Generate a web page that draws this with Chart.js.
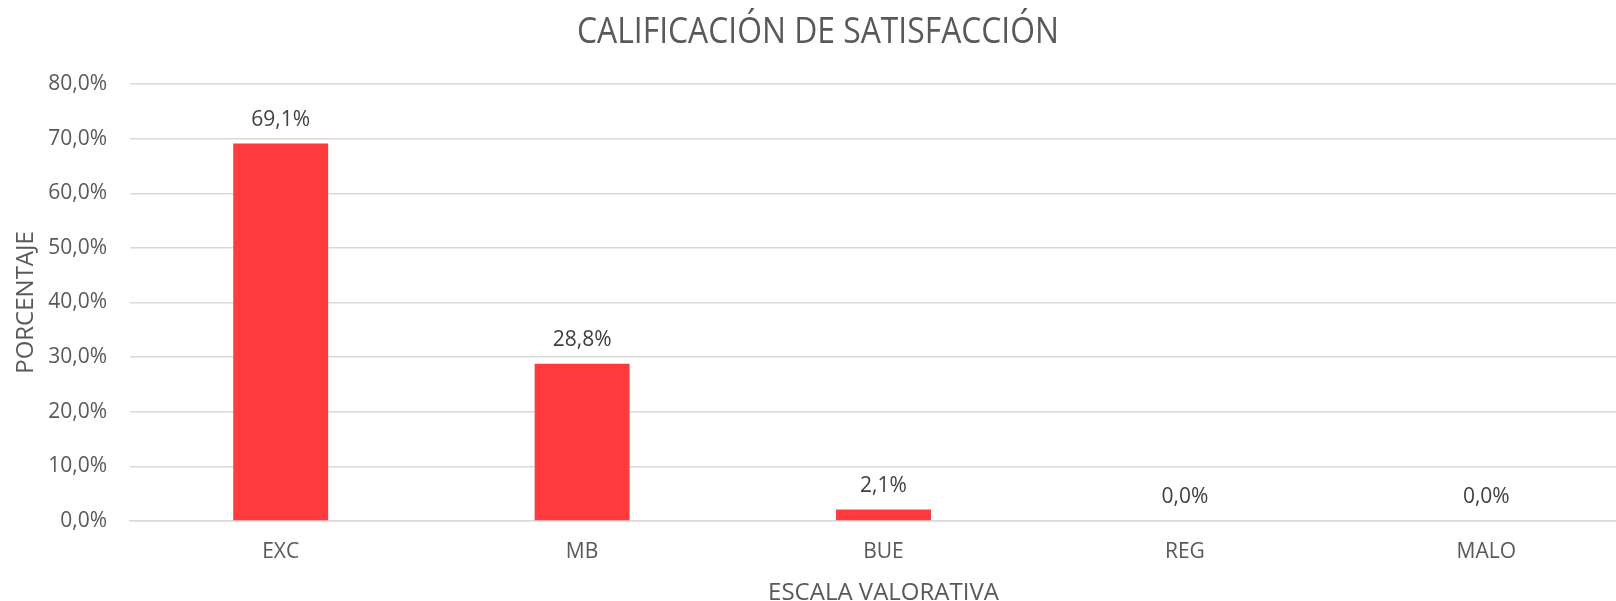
<!DOCTYPE html>
<html lang="es">
<head>
<meta charset="utf-8">
<title>Calificación de satisfacción</title>
<script src="https://cdn.jsdelivr.net/npm/chart.js@4/dist/chart.umd.min.js"></script>
<style>
    html, body {
        margin: 0;
        padding: 0;
        background: #FFFFFF;
        overflow: hidden;
    }

    #wrap {
        width: 1640px;
        height: 620px;
    }
</style>
</head>
<body>

<div id="wrap">
    <canvas id="satisfactionChart" width="1640" height="620"></canvas>
</div>

<script>
/* ==========================================
   Data
========================================== */

const categories = ["EXC", "MB", "BUE", "REG", "MALO"];

const percentValues = [69.1, 28.8, 2.1, 0.0, 0.0];

const yTicks = [0, 10, 20, 30, 40, 50, 60, 70, 80];

const chartTitle = "CALIFICACIÓN DE SATISFACCIÓN";
const xTitle = "ESCALA VALORATIVA";
const yTitle = "PORCENTAJE";

const textColor = "#595959";
const fontFamily = "'Open Sans', sans-serif";

/* ==========================================
   Helpers
========================================== */

function formatPercent(v) {
    return v.toFixed(1).replace(".", ",") + "%";
}

// value labels above each bar
const barLabels = {
    id: "barLabels",
    afterDatasetsDraw(chart) {
        const ctx = chart.ctx;
        const meta = chart.getDatasetMeta(0);
        ctx.save();
        ctx.fillStyle = "#404040";
        ctx.font = "21px " + fontFamily;
        ctx.textAlign = "center";
        ctx.textBaseline = "alphabetic";
        meta.data.forEach((bar, i) => {
            ctx.fillText(formatPercent(percentValues[i]), bar.x, bar.y - 18);
        });
        ctx.restore();
    }
};

// chart title (original font is narrower, so cap the width)
const chartHeading = {
    id: "chartHeading",
    afterDraw(chart) {
        const ctx = chart.ctx;
        ctx.save();
        ctx.fillStyle = textColor;
        ctx.font = "36px " + fontFamily;
        ctx.textAlign = "center";
        ctx.textBaseline = "alphabetic";
        ctx.fillText(chartTitle, 818, 43, 482);
        ctx.restore();
    }
};

/* ==========================================
   Chart
========================================== */

const chartCanvas = document.getElementById("satisfactionChart");

if (chartCanvas) {

    const ctx = chartCanvas.getContext("2d");

    new Chart(ctx, {

        type: "bar",

        data: {

            labels: categories,

            datasets: [{

                label: "Porcentaje",

                data: percentValues,

                backgroundColor: "#FF3B3D",

                borderWidth: 0,

                barPercentage: 0.315,

                categoryPercentage: 1

            }]

        },

        options: {

            responsive: false,

            animation: false,

            layout: {
                padding: { top: 84, right: 3, bottom: 0, left: 0 }
            },

            plugins: {

                legend: { display: false },

                tooltip: { enabled: false },

                title: { display: false }

            },

            scales: {

                y: {

                    min: 0,

                    max: 80,

                    afterFit: (scale) => { scale.width = 130; },

                    afterBuildTicks: (scale) => {
                        scale.ticks = yTicks.map((v) => ({ value: v }));
                    },

                    ticks: {
                        color: textColor,
                        padding: 23,
                        font: { family: fontFamily, size: 21 },
                        callback: (v) => formatPercent(v)
                    },

                    grid: {
                        color: "#D9D9D9",
                        lineWidth: 1.5,
                        drawTicks: false
                    },

                    border: { display: false },

                    title: {
                        display: true,
                        text: yTitle,
                        color: textColor,
                        padding: { top: 12, bottom: 0 },
                        font: { family: fontFamily, size: 24 }
                    }

                },

                x: {

                    afterFit: (scale) => { scale.height = 99; },

                    ticks: {
                        color: textColor,
                        padding: 18,
                        font: { family: fontFamily, size: 21 }
                    },

                    grid: {
                        display: false,
                        drawTicks: false
                    },

                    border: {
                        display: true,
                        color: "#D9D9D9",
                        width: 1.5
                    },

                    title: {
                        display: true,
                        text: xTitle,
                        color: textColor,
                        padding: { top: 0, bottom: 12 },
                        font: { family: fontFamily, size: 24 }
                    }

                }

            }

        },

        plugins: [barLabels, chartHeading]

    });

}
</script>

</body>
</html>
